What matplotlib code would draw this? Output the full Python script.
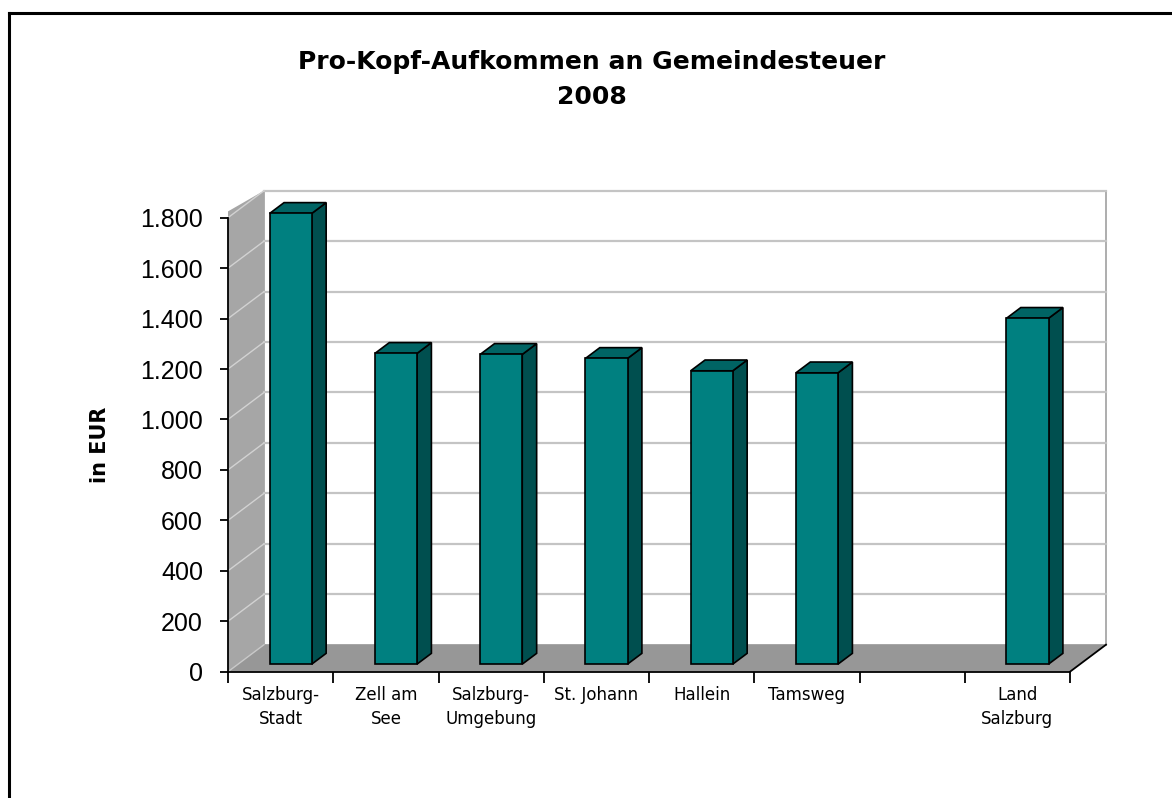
import matplotlib
matplotlib.use("Agg")
import matplotlib.pyplot as plt
from matplotlib.patches import Polygon
from matplotlib.lines import Line2D
from matplotlib.ticker import FuncFormatter

# data (EUR per head, 2008)
categories = ["Salzburg-\nStadt", "Zell am\nSee", "Salzburg-\nUmgebung", "St. Johann",
              "Hallein", "Tamsweg", "", "Land\nSalzburg"]
values = [1787, 1232, 1228, 1212, 1163, 1155, None, 1371]
y_ticks = list(range(0, 2000, 200))

# colours
front_col = "#008080"
side_col = "#004f4f"
top_col = "#006464"
wall_col = "#a6a6a6"
floor_col = "#979797"
grid_col = "#c4c4c4"

fig = plt.figure(figsize=(11.72, 7.98), dpi=100)
ax = fig.add_axes([228 / 1172, 1 - 671.7 / 798, 842 / 1172, 454 / 798])
n = len(categories)
ymax = 1800
ax.set_xlim(0, n)
ax.set_ylim(0, ymax)

# depth of the fake 3d box, in data units
DX = 36 / (842 / n)
DY = 27 * ymax / 454

# back wall
ax.add_patch(Polygon([(DX, DY), (n + DX, DY), (n + DX, ymax + DY), (DX, ymax + DY)],
                     closed=True, facecolor="white", edgecolor="#a0a0a0", lw=1.2,
                     clip_on=False, zorder=0))
# side wall
ax.add_patch(Polygon([(0, 0), (DX, DY), (DX, ymax + DY), (0, ymax + 25)],
                     closed=True, facecolor=wall_col, edgecolor="none",
                     clip_on=False, zorder=0))
# floor
ax.add_patch(Polygon([(0, 0), (n, 0), (n + DX, DY), (DX, DY)],
                     closed=True, facecolor=floor_col, edgecolor="none",
                     clip_on=False, zorder=0))
ax.add_line(Line2D([n, n + DX], [0, DY], color="black", lw=1.3, clip_on=False, zorder=1))
ax.add_line(Line2D([0, DX], [0, DY], color="#c8c8c8", lw=1.0, clip_on=False, zorder=1))

# gridlines on back wall and side wall
for v in y_ticks[1:]:
    ax.add_line(Line2D([DX, n + DX], [v + DY, v + DY], color=grid_col, lw=1.6,
                       clip_on=False, zorder=1))
    ax.add_line(Line2D([0, DX], [v, v + DY], color="#d2d2d2", lw=1.0,
                       clip_on=False, zorder=1))

# bars: front face through ax.bar, side and top faces from the same values
f0, f1 = 0.28, 0.68
bw = 0.4
xs = [i + 0.5 + DX * f0 for i in range(n) if values[i] is not None]
hs = [v for v in values if v is not None]
ax.bar(xs, hs, width=bw, bottom=DY * f0, color=front_col, edgecolor="black",
       lw=1.2, zorder=3, clip_on=False)
ddx = DX * (f1 - f0)
ddy = DY * (f1 - f0)
for x, h in zip(xs, hs):
    x0, x1 = x - bw / 2, x + bw / 2
    y0, y1 = DY * f0, DY * f0 + h
    ax.add_patch(Polygon([(x1, y0), (x1 + ddx, y0 + ddy), (x1 + ddx, y1 + ddy), (x1, y1)],
                         closed=True, facecolor=side_col, edgecolor="black", lw=1.2,
                         clip_on=False, zorder=2))
    ax.add_patch(Polygon([(x0, y1), (x1, y1), (x1 + ddx, y1 + ddy), (x0 + ddx, y1 + ddy)],
                         closed=True, facecolor=top_col, edgecolor="black", lw=1.2,
                         clip_on=False, zorder=2))

# axes
for s in ["top", "right"]:
    ax.spines[s].set_visible(False)
ax.spines["left"].set_linewidth(1.3)
ax.spines["bottom"].set_linewidth(1.3)
ax.spines["left"].set_zorder(4)
ax.spines["bottom"].set_zorder(4)
ax.patch.set_visible(False)

ax.set_yticks(y_ticks)
ax.yaxis.set_major_formatter(FuncFormatter(lambda v, p: f"{int(v):,}".replace(",", ".")))
ax.tick_params(axis="y", direction="out", length=6, width=1.3, labelsize=18, pad=12)
for lab in ax.get_yticklabels():
    lab.set_fontfamily("Liberation Sans")

ax.set_xticks(range(n + 1))
ax.set_xticklabels([])
ax.set_xticks([i + 0.5 for i in range(n)], minor=True)
ax.set_xticklabels(categories, minor=True, fontsize=12, linespacing=1.45)
ax.tick_params(axis="x", which="major", direction="out", length=8, width=1.3)
ax.tick_params(axis="x", which="minor", length=0, pad=10)

ax.set_ylabel("in EUR", fontsize=15, fontweight="bold", labelpad=22)

fig.text(592 / 1172, 1 - 62 / 798, "Pro-Kopf-Aufkommen an Gemeindesteuer",
         ha="center", va="center", fontsize=18, fontweight="bold")
fig.text(592 / 1172, 1 - 97 / 798, "2008", ha="center", va="center",
         fontsize=18, fontweight="bold")

# picture frame (top and left edge)
fig.add_artist(Line2D([9 / 1172, 1], [1 - 13 / 798, 1 - 13 / 798], color="black", lw=2.2))
fig.add_artist(Line2D([9 / 1172, 9 / 1172], [0, 1 - 13 / 798], color="black", lw=2.2))

fig.savefig("out.png", dpi=100)
